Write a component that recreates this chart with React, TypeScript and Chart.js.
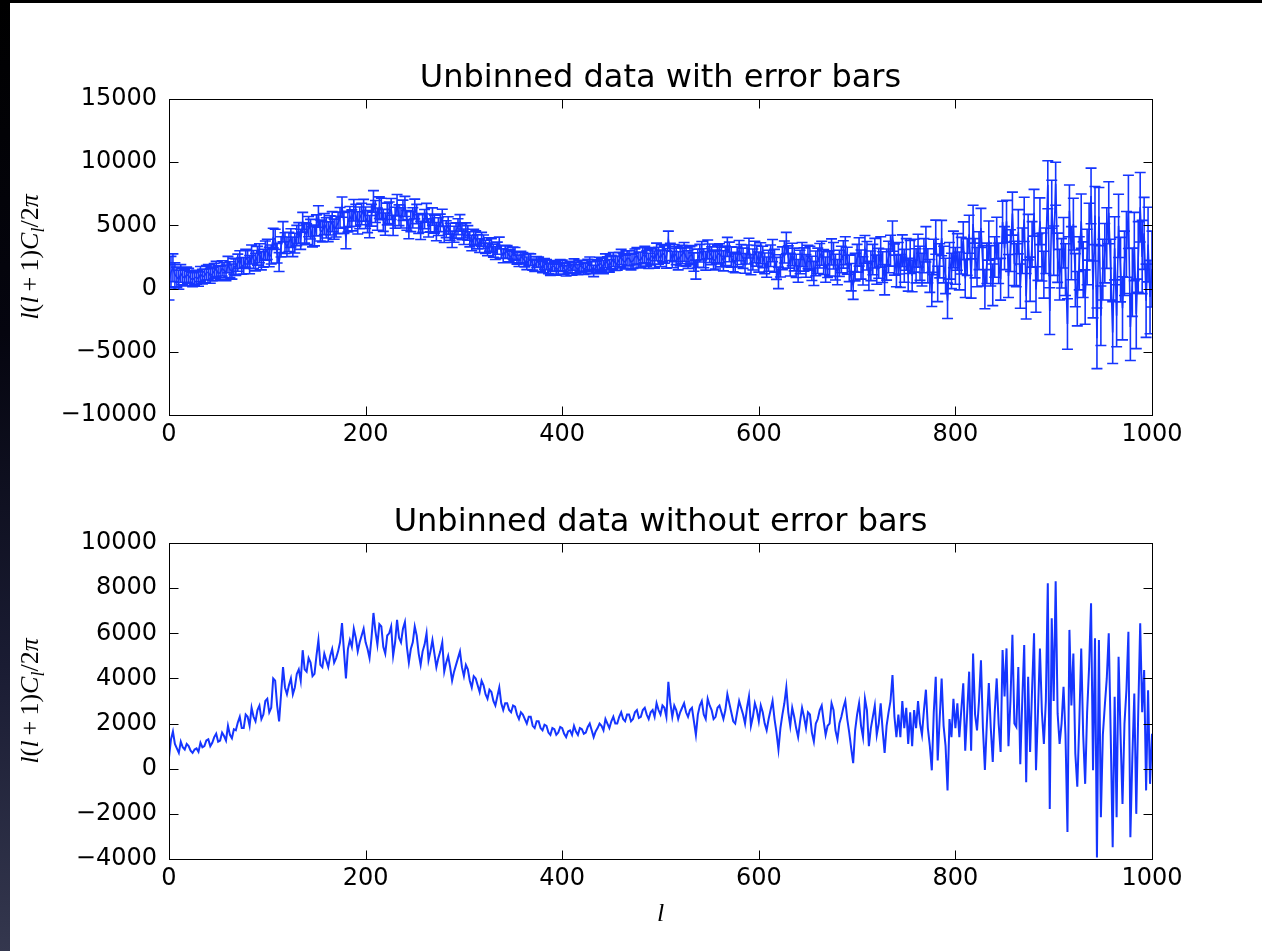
import React, { useEffect, useRef } from 'react';
import { Chart, registerables } from 'chart.js';

Chart.register(...registerables);

// ---------------- data ----------------
// multipoles l = 0..740, every 2
const LOW_START = 0;
const STEP = 2;
const lowValues = [
  500, 1300, 1650, 1100, 900, 700, 1200, 950, 850, 1100,
  1000, 800, 700, 850, 900, 750, 1150, 950, 1000, 1250,
  1300, 1000, 1150, 1400, 1550, 1200, 1250, 1600, 1450, 1250,
  1900, 1500, 1350, 1750, 1700, 2050, 2300, 1800, 1800, 2400,
  2300, 1900, 2700, 2300, 2100, 2600, 2800, 2200, 2400, 3000,
  3100, 2500, 2700, 4000, 3900, 2800, 2100, 3300, 4500, 3600,
  3300, 3700, 4000, 3300, 3600, 4200, 4400, 3900, 5250, 4400,
  4300, 4900, 4700, 4100, 4200, 5000, 5700, 4600, 4500, 5100,
  4800, 4500, 5000, 5300, 4700, 4900, 5200, 5600, 6450, 5200,
  4000, 5300, 5700, 5400, 6200, 5800, 5200, 5600, 5900, 6200,
  5600, 5300, 4900, 5800, 6900, 6100, 5500, 6400, 6300, 5400,
  5100, 5900, 6000, 6300, 5000, 5600, 6600, 5800, 5600, 6200,
  6500, 5400, 4700, 5300, 5600, 6300, 5900, 5100, 4600, 5200,
  5500, 6000, 4800, 5200, 5700, 5100, 4500, 4900, 5200, 5600,
  4300, 4700, 5000, 4500, 3900, 4300, 4600, 4900, 5200, 4500,
  4100, 4600, 4400, 3900, 3600, 4100, 4000, 3700, 3400, 3900,
  3700, 3300, 3100, 3500, 3400, 3000, 2800, 3200, 3600, 2900,
  2600, 2900, 2900, 2600, 2500, 2800, 2750, 2400, 2200, 2500,
  2400, 2200, 2000, 2300, 2300, 1900, 1800, 2100, 2100, 1800,
  1700, 1950, 1900, 1600, 1500, 1800, 1750, 1500, 1600, 1850,
  1800, 1550, 1400, 1650, 1700, 1500, 1900, 1650, 1500, 1800,
  1750, 1550, 1600, 1850, 2000, 1700, 1400, 1650, 1800, 2000,
  1900, 1700, 2200, 2000, 1800, 2100, 2300, 2000, 2000, 2300,
  2500, 2200, 2100, 2400, 2400, 2100, 2200, 2500, 2600, 2250,
  2300, 2600, 2700, 2400, 2200, 2500, 2600, 2300, 2900, 2600,
  2400, 2800, 2700, 2300, 3850, 2900, 2300, 2800, 2600, 2200,
  2500, 2700, 2900, 2500, 2300, 2600, 2700, 2100, 1500, 2400,
  2800, 3000, 2400, 2200, 3100, 2800, 2600, 2200, 2300, 2700,
  2800, 2500, 2200, 2600, 3300, 2900, 2500, 2100, 2000, 2500,
  3000, 2700, 2400, 2000, 2700, 3200, 1900, 2300, 2900, 2600,
  2100, 2800, 2500, 2000, 1700, 2200, 2600, 3000, 2200, 1600,
  850, 1800, 2400, 2900, 3600, 2500, 1900, 2700, 2300, 1800,
  1400, 2100, 2700, 2300, 1800, 2500, 2400, 1600, 1200, 2000,
  2200, 2600, 2800, 2100, 1500, 1900, 2000, 2900, 2600, 1700,
  1300, 2000, 2300, 2700, 3000, 2200, 1600, 900, 250, 1700,
  2400, 2900, 1900, 1400, 3100, 2600, 1000, 1800, 2300, 2800,
  1500, 2000, 2900, 1700, 700, 1900, 2500, 3000, 4150, 2300,
  1400,
];
const lowErrors = [
  1400, 1250, 1100, 950, 800, 750, 700, 650, 650, 600,
  600, 580, 550, 560, 550, 570, 600, 580, 550, 570,
  600, 580, 550, 580, 600, 570, 550, 600, 600, 620,
  650, 620, 600, 640, 650, 680, 700, 660, 650, 700,
  700, 720, 750, 720, 700, 740, 750, 720, 700, 760,
  800, 770, 750, 780, 800, 780, 750, 800, 800, 820,
  780, 760, 740, 770, 780, 800, 820, 800, 780, 800,
  820, 800, 780, 800, 820, 830, 850, 830, 810, 830,
  800, 780, 760, 790, 800, 820, 850, 820, 800, 830,
  850, 820, 800, 830, 850, 870, 880, 860, 850, 860,
  850, 870, 880, 860, 850, 870, 880, 860, 850, 870,
  880, 860, 850, 830, 800, 830, 850, 820, 800, 800,
  800, 780, 760, 790, 800, 780, 760, 740, 720, 740,
  760, 740, 720, 700, 690, 710, 720, 700, 690, 680,
  650, 670, 690, 670, 650, 630, 610, 630, 650, 630,
  610, 600, 580, 600, 610, 590, 580, 560, 540, 550,
  540, 520, 500, 520, 540, 520, 500, 480, 470, 480,
  550, 520, 500, 480, 450, 480, 500, 470, 450, 450,
  450, 480, 500, 470, 450, 440, 450, 430, 400, 430,
  450, 420, 400, 430, 450, 420, 400, 430, 450, 440,
  450, 420, 400, 430, 450, 440, 450, 430, 400, 430,
  450, 440, 450, 470, 500, 470, 450, 480, 500, 480,
  500, 520, 550, 520, 500, 530, 550, 570, 550, 580,
  600, 570, 550, 580, 600, 620, 600, 630, 650, 620,
  600, 630, 650, 620, 600, 630, 650, 680, 700, 670,
  650, 680, 700, 690, 700, 680, 650, 680, 700, 720,
  700, 730, 750, 720, 700, 710, 700, 730, 750, 720,
  700, 730, 750, 740, 750, 730, 700, 730, 750, 740,
  750, 780, 800, 770, 750, 780, 800, 770, 750, 780,
  800, 790, 800, 780, 750, 780, 800, 830, 850, 820,
  800, 830, 850, 820, 800, 830, 850, 880, 900, 870,
  850, 880, 900, 870, 850, 880, 900, 890, 900, 920,
  900, 930, 950, 920, 900, 930, 950, 960, 950, 980,
  1000, 970, 950, 980, 1000, 1020, 1000, 1030, 1050, 1020,
  1000, 1030, 1050, 1080, 1100, 1070, 1050, 1080, 1100, 1090,
  1100, 1120, 1150, 1120, 1100, 1130, 1150, 1170, 1200, 1170,
  1150, 1180, 1200, 1220, 1200, 1230, 1250, 1220, 1200, 1230,
  1250,
];
// multipoles l = 742..1000, every 2
const highValues = [
  2400, 1400, 3000, 1800, 2700, 1100, 2500, 1000, 2600, 1800,
  3000, 2000, 1500, 2600, 3500, 1800, 1000, -70, 2500, 4070,
  370, 2200, 4000, 1900, 1000, -960, 2200, 1400, 3100, 1800,
  2900, 1400, 2600, 3780, 800, 2500, 4300, 800, 5100, 2400,
  1700, 3000, 4800, 1800, -50, 2000, 3800, 1800, 300, 2500,
  4000, 2000, 740, 5260, 3200, 5330, 1000, 3000, 5930, 2000,
  1850, 4500, 200, 3000, 5480, -600, 4070, 740, 3500, 6000,
  -70, 2500, 5330, 2500, 1100, 3000, 8220, -1780, 6670, 3000,
  8300, 2440, 1100, 2000, 3630, 1500, -2800, 6150, 2800, 5100,
  670, -800, 2000, 5330, 1500, -670, 2500, 4500, 7330, -70,
  5780, -3930, 5700, -2150, 1500, 2800, 4000, 6000, 1500, -3480,
  3190, -2150, 4960, 1500, -1560, 2000, 3500, 6070, -3040, 500,
  3330, -2000, 2500, 6440, 2500, 4370, -960, 3480, -670, 1550,
];
const highErrors = [
  1250, 1300, 1250, 1300, 1250, 1300, 1300, 1250, 1300, 1350,
  1300, 1350, 1300, 1350, 1400, 1350, 1300, 1350, 1400, 1350,
  1400, 1350, 1400, 1450, 1400, 1400, 1450, 1400, 1450, 1450,
  1450, 1500, 1450, 1500, 1500, 1450, 1500, 1550, 1500, 1550,
  1550, 1500, 1550, 1600, 1550, 1600, 1550, 1600, 1650, 1600,
  1650, 1600, 1650, 1650, 1700, 1650, 1700, 1650, 1700, 1750,
  1700, 1750, 1750, 1800, 1750, 1800, 1800, 1750, 1800, 1850,
  1800, 1850, 1850, 1900, 1850, 1800, 1900, 1850, 1900, 1950,
  1700, 1950, 2000, 1950, 2000, 2050, 2000, 2050, 2100, 2050,
  2100, 2150, 2100, 2150, 2200, 2150, 2200, 2250, 2200, 2250,
  2300, 2400, 2300, 2350, 2400, 2350, 2400, 2450, 2400, 2450,
  2500, 2450, 2500, 2550, 2500, 2550, 2600, 2900, 2650, 2700,
  2700, 2750, 2800, 2750, 2900, 2850, 2900, 2950, 2900, 3000,
];

const xTicks = [0, 200, 400, 600, 800, 1000];
const topYTicks = [-10000, -5000, 0, 5000, 10000, 15000];
const bottomYTicks = [-4000, -2000, 0, 2000, 4000, 6000, 8000, 10000];
const titles = ['Unbinned data with error bars', 'Unbinned data without error bars'];
const xLabel = 'l';

// ---------------- helpers ----------------
const BLUE = '#1535ff';
const SANS = '"DejaVu Sans", sans-serif';
const SERIF = '"Liberation Serif", serif';

const allValues = [...lowValues, ...highValues];
const allErrors = [...lowErrors, ...highErrors];
const points = allValues.map((v, i) => ({ x: LOW_START + i * STEP, y: v, e: allErrors[i] }));

const fmt = (v: any) => {
  const n = Number(v);
  return n < 0 ? '\u2212' + Math.abs(n) : String(n);
};

function drawYLabel(ctx: CanvasRenderingContext2D, cx: number, cy: number, size: number) {
  const segs = [
    { t: 'l', it: true },
    { t: '(', it: false },
    { t: 'l', it: true },
    { t: '+', it: false, pad: 0.2 },
    { t: '1', it: false },
    { t: ')', it: false },
    { t: 'C', it: true },
    { t: 'l', it: true, sub: true },
    { t: '/', it: false },
    { t: '2', it: false },
    { t: 'π', it: true },
  ] as { t: string; it: boolean; pad?: number; sub?: boolean }[];
  const fontOf = (s: any) => `${s.it ? 'italic ' : ''}${s.sub ? Math.round(size * 0.7) : size}px ${SERIF}`;
  let total = 0;
  const widths = segs.map((s) => {
    ctx.font = fontOf(s);
    const w = ctx.measureText(s.t).width + (s.pad ? 2 * s.pad * size : 0);
    total += w;
    return w;
  });
  ctx.save();
  ctx.translate(cx, cy);
  ctx.rotate(-Math.PI / 2);
  ctx.fillStyle = '#000';
  ctx.textBaseline = 'alphabetic';
  ctx.textAlign = 'left';
  let x = -total / 2;
  const base = size * 0.3;
  segs.forEach((s, i) => {
    ctx.font = fontOf(s);
    const px = x + (s.pad ? s.pad * size : 0);
    ctx.fillText(s.t, px, base + (s.sub ? size * 0.22 : 0));
    x += widths[i];
  });
  ctx.restore();
}

function makeFramePlugin() {
  return {
    id: 'frameTicks',
    afterDraw(chart: any) {
      const { ctx, chartArea: a, scales } = chart;
      const TL = 9;
      ctx.save();
      ctx.strokeStyle = '#000';
      ctx.lineWidth = 1;
      const L = Math.round(a.left) + 0.5;
      const R = Math.round(a.right) + 0.5;
      const T = Math.round(a.top) + 0.5;
      const B = Math.round(a.bottom) + 0.5;
      ctx.beginPath();
      for (const t of scales.x.ticks) {
        const px = Math.round(scales.x.getPixelForValue(t.value)) + 0.5;
        ctx.moveTo(px, B);
        ctx.lineTo(px, B - TL);
        ctx.moveTo(px, T);
        ctx.lineTo(px, T + TL);
      }
      for (const t of scales.y.ticks) {
        const py = Math.round(scales.y.getPixelForValue(t.value)) + 0.5;
        ctx.moveTo(L, py);
        ctx.lineTo(L + TL, py);
        ctx.moveTo(R, py);
        ctx.lineTo(R - TL, py);
      }
      ctx.stroke();
      ctx.strokeRect(L, T, R - L, B - T);
      ctx.restore();
    },
  };
}

function makeTextPlugin(title: string, titleGap: number, withXLabel: boolean) {
  return {
    id: 'texts',
    afterDraw(chart: any) {
      const { ctx, chartArea: a } = chart;
      ctx.save();
      ctx.fillStyle = '#000';
      ctx.font = `32px ${SANS}`;
      ctx.textAlign = 'center';
      ctx.textBaseline = 'alphabetic';
      ctx.fillText(title, (a.left + a.right) / 2, a.top - titleGap);
      if (withXLabel) {
        ctx.font = `italic 26px ${SERIF}`;
        ctx.fillText(xLabel, (a.left + a.right) / 2, a.bottom + 62);
      }
      ctx.restore();
      drawYLabel(ctx, 20, (a.top + a.bottom) / 2, 26);
    },
  };
}

const errorBarPlugin = {
  id: 'errorBars',
  afterDatasetsDraw(chart: any) {
    const { ctx, chartArea: a, scales } = chart;
    const xs = scales.x;
    const ys = scales.y;
    ctx.save();
    ctx.beginPath();
    ctx.rect(a.left, a.top, a.right - a.left, a.bottom - a.top);
    ctx.clip();
    ctx.strokeStyle = BLUE;
    ctx.lineWidth = 1.6;
    ctx.beginPath();
    const cap = 5.5;
    for (const p of points) {
      const px = xs.getPixelForValue(p.x);
      const y1 = ys.getPixelForValue(p.y + p.e);
      const y2 = ys.getPixelForValue(p.y - p.e);
      ctx.moveTo(px, y1);
      ctx.lineTo(px, y2);
      ctx.moveTo(px - cap, y1);
      ctx.lineTo(px + cap, y1);
      ctx.moveTo(px - cap, y2);
      ctx.lineTo(px + cap, y2);
    }
    ctx.stroke();
    ctx.restore();
  },
};

function buildConfig(opts: {
  yTicks: number[];
  padTop: number;
  xHeight: number;
  title: string;
  titleGap: number;
  withErr: boolean;
  withXLabel: boolean;
  lineWidth: number;
}) {
  const tickFont = { family: SANS, size: 24 };
  const plugins: any[] = [makeFramePlugin(), makeTextPlugin(opts.title, opts.titleGap, opts.withXLabel)];
  if (opts.withErr) plugins.unshift(errorBarPlugin);
  return {
    type: 'line',
    data: {
      datasets: [
        {
          data: points.map((p) => ({ x: p.x, y: p.y })),
          borderColor: BLUE,
          borderWidth: opts.lineWidth,
          pointRadius: 0,
          tension: 0,
          fill: false,
        },
      ],
    },
    options: {
      animation: false,
      responsive: false,
      devicePixelRatio: 1,
      layout: { padding: { top: opts.padTop, right: 110, left: 0, bottom: 0 } },
      plugins: { legend: { display: false }, tooltip: { enabled: false }, title: { display: false } },
      scales: {
        x: {
          type: 'linear',
          min: xTicks[0],
          max: xTicks[xTicks.length - 1],
          afterBuildTicks: (s: any) => {
            s.ticks = xTicks.map((v) => ({ value: v }));
          },
          afterFit: (s: any) => {
            s.height = opts.xHeight;
          },
          grid: { display: false, drawTicks: false },
          border: { display: false },
          ticks: { font: tickFont, color: '#000', padding: 5, maxRotation: 0, autoSkip: false, callback: fmt },
        },
        y: {
          type: 'linear',
          min: opts.yTicks[0],
          max: opts.yTicks[opts.yTicks.length - 1],
          afterBuildTicks: (s: any) => {
            s.ticks = opts.yTicks.map((v) => ({ value: v }));
          },
          afterFit: (s: any) => {
            s.width = 159;
          },
          grid: { display: false, drawTicks: false },
          border: { display: false },
          ticks: { font: tickFont, color: '#000', padding: 12, autoSkip: false, callback: fmt },
        },
      },
    },
    plugins,
  };
}

export default function App() {
  const topRef = useRef<HTMLCanvasElement>(null);
  const botRef = useRef<HTMLCanvasElement>(null);

  useEffect(() => {
    const c1 = new Chart(
      topRef.current as HTMLCanvasElement,
      buildConfig({
        yTicks: topYTicks,
        padTop: 96,
        xHeight: 55,
        title: titles[0],
        titleGap: 12,
        withErr: true,
        withXLabel: false,
        lineWidth: 1.6,
      }) as any
    );
    const c2 = new Chart(
      botRef.current as HTMLCanvasElement,
      buildConfig({
        yTicks: bottomYTicks,
        padTop: 73,
        xHeight: 92,
        title: titles[1],
        titleGap: 12,
        withErr: false,
        withXLabel: true,
        lineWidth: 2,
      }) as any
    );
    return () => {
      c1.destroy();
      c2.destroy();
    };
  }, []);

  return (
    <div
      style={{
        position: 'fixed',
        left: 0,
        top: 0,
        width: 1262,
        height: 951,
        background: '#fff',
        overflow: 'hidden',
      }}
    >
      <div style={{ position: 'absolute', left: 0, top: 0, width: 1262, height: 3, background: '#000' }} />
      <div
        style={{
          position: 'absolute',
          left: 0,
          top: 0,
          width: 10,
          height: 951,
          background: 'linear-gradient(to bottom, #000 0%, #05050f 35%, #1a1c33 70%, #34374e 100%)',
        }}
      />
      <canvas ref={topRef} width={1252} height={467} style={{ position: 'absolute', left: 10, top: 3 }} />
      <canvas ref={botRef} width={1252} height={481} style={{ position: 'absolute', left: 10, top: 470 }} />
    </div>
  );
}
